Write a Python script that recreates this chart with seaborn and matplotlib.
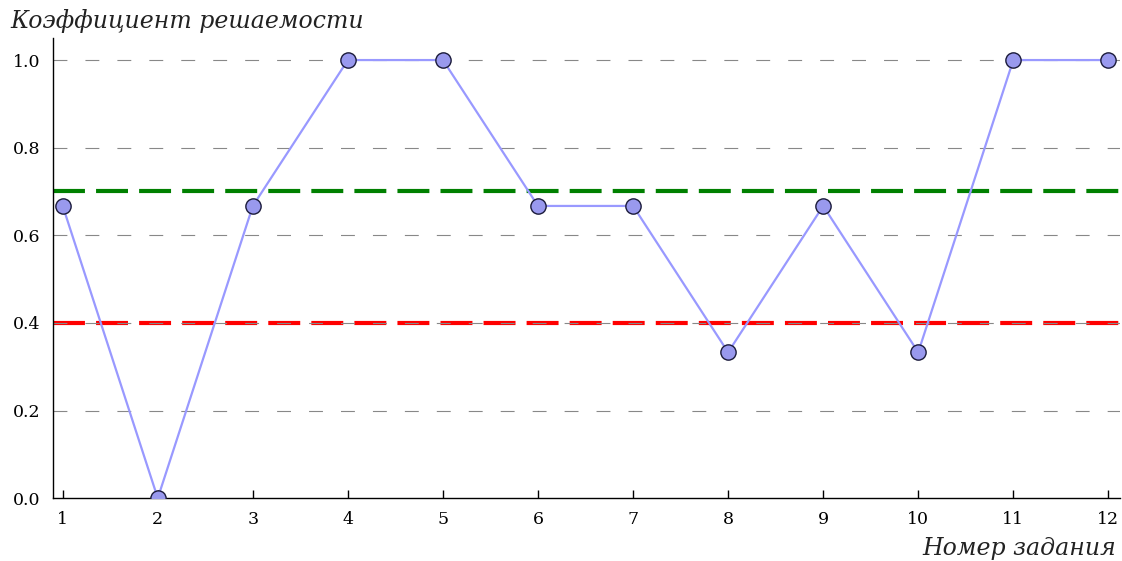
import matplotlib
matplotlib.use("Agg")
import matplotlib.pyplot as plt
import seaborn as sns
import pandas as pd

# task numbers and solvability coefficients
tasks = [1, 2, 3, 4, 5, 6, 7, 8, 9, 10, 11, 12]
solvability = [0.667, 0.0, 0.667, 1.0, 1.0, 0.667, 0.667, 0.333, 0.667, 0.333, 1.0, 1.0]
upper_level = 0.7
lower_level = 0.4
y_ticks = [0.0, 0.2, 0.4, 0.6, 0.8, 1.0]

df = pd.DataFrame({"task": tasks, "k": solvability})

sns.set_style("white")
plt.rcParams["font.family"] = ["DejaVu Serif"]
plt.rcParams["lines.scale_dashes"] = False

fig = plt.figure(figsize=(11.22, 5.61), dpi=100)
ax = fig.add_axes([0.047, 0.112, 0.951, 0.820])

# grid lines
for yv in y_ticks[1:]:
    ax.axhline(yv, color="#888888", lw=0.8, ls=(0, (10, 13)), zorder=2)

ax.axhline(upper_level, color="#008000", lw=3, ls=(0, (23, 8)), zorder=1)
ax.axhline(lower_level, color="#ff0000", lw=3, ls=(0, (23, 8)), zorder=1)

sns.lineplot(data=df, x="task", y="k", ax=ax, color="#9999ff", lw=1.6,
             marker="o", markersize=11, markerfacecolor="#9999ee",
             markeredgecolor="#1a1a3a", markeredgewidth=1.0, zorder=5)

ax.set_xlim(0.895, 12.12)
ax.set_ylim(0, 1.05)
ax.set_xticks(tasks)
ax.set_yticks(y_ticks)
ax.set_yticklabels([f"{v:.1f}" for v in y_ticks])
ax.tick_params(axis="x", direction="in", length=6, width=1, colors="black",
               labelsize=12.5, pad=9, bottom=True)
ax.tick_params(axis="y", length=0, labelsize=12.5, pad=9, colors="black")
ax.set_xlabel("")
ax.set_ylabel("")

for side in ["top", "right"]:
    ax.spines[side].set_visible(False)
for side in ["left", "bottom"]:
    ax.spines[side].set_color("black")
    ax.spines[side].set_linewidth(1.0)

fig.text(0.009, 0.962, "Коэффициент решаемости", style="italic", fontsize=17,
         ha="left", va="center", color="#222222")
fig.text(0.995, 0.022, "Номер задания", style="italic", fontsize=17,
         ha="right", va="center", color="#222222")

fig.savefig("out.png", dpi=100)
